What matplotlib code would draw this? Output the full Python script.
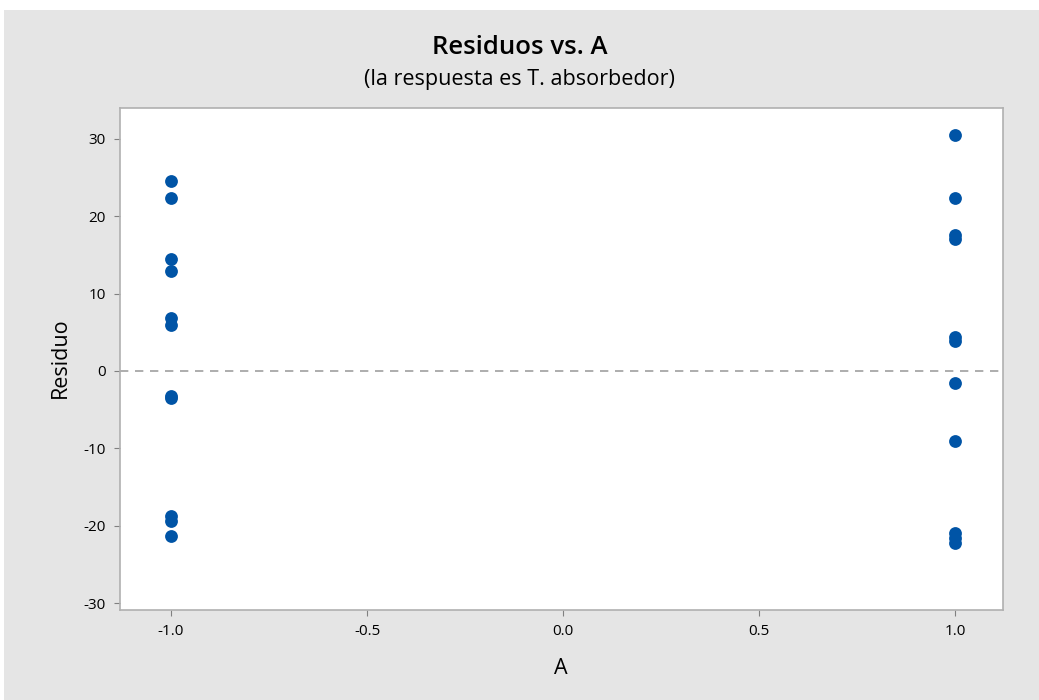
import matplotlib.pyplot as plt
from matplotlib.patches import Rectangle

plt.rcParams['font.family'] = ['Open Sans', 'DejaVu Sans']
plt.rcParams['axes.unicode_minus'] = False

# Residuals
a_low = [-1.0] * 11
res_low = [24.6, 22.3, 14.5, 12.9, 6.8, 6.0, -3.2, -3.5, -18.8, -19.4, -21.3]
a_high = [1.0] * 11
res_high = [30.5, 22.3, 17.6, 17.1, 4.4, 3.9, -1.5, -9.0, -20.9, -21.6, -22.3]

x_ticks = [-1.0, -0.5, 0.0, 0.5, 1.0]
y_ticks = [-30, -20, -10, 0, 10, 20, 30]

fig = plt.figure(figsize=(10.39, 7.0), dpi=100, facecolor='white')
fig.patches.append(Rectangle((4 / 1039, 0), 1, 690 / 700, transform=fig.transFigure,
                             facecolor='#e5e5e5', edgecolor='none', zorder=-10))

ax = fig.add_axes([120 / 1039, 1 - 610 / 700, 883 / 1039, 502 / 700])
ax.set_facecolor('white')

ax.scatter(a_low + a_high, res_low + res_high, s=85, color='#0054a6', zorder=3, linewidths=0)
ax.axhline(0, color='#a0a0a0', linestyle=(0, (5, 4)), linewidth=1.2, zorder=2)

ax.set_xlim(-1.13, 1.122)
ax.set_ylim(-30.9, 34.0)
ax.set_xticks(x_ticks)
ax.set_xticklabels([f'{t:.1f}' for t in x_ticks])
ax.set_yticks(y_ticks)
ax.tick_params(labelsize=11, color='#808080', length=4, pad=6)

for s in ax.spines.values():
    s.set_color('#b0b0b0')
    s.set_linewidth(1.2)

fig.text(0.5, 1 - 47 / 700, 'Residuos vs. A', ha='center', va='center', fontsize=18.5, fontweight='semibold')
fig.text(0.5, 1 - 80 / 700, '(la respuesta es T. absorbedor)', ha='center', va='center', fontsize=15.5)
fig.text(60 / 1039, 1 - 358 / 700, 'Residuo', ha='center', va='center', rotation=90, fontsize=15.5)
fig.text(561 / 1039, 1 - 668 / 700, 'A', ha='center', va='center', fontsize=15.5)

plt.savefig('out.png', dpi=100, facecolor=fig.get_facecolor())
